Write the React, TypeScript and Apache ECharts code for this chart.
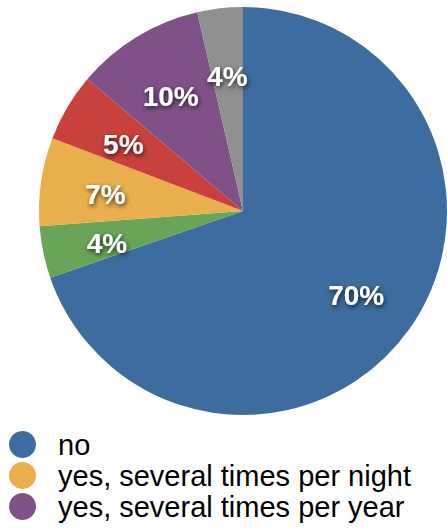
import React, { useEffect, useRef } from "react";
import * as echarts from "echarts";

const categories = [
  "no",
  "yes, once per night",
  "yes, several times per night",
  "yes, several times per month",
  "yes, several times per year",
  "I don't know",
];
const values = [69.7, 4.1, 7.0, 5.4, 10.2, 3.6];
const colors = ["#3d6c9e", "#6aa457", "#eaaf4d", "#c9413d", "#805189", "#8e9190"];
const legendItems = ["no", "yes, several times per night", "yes, several times per year"];

export default function App() {
  const ref = useRef<HTMLDivElement>(null);
  useEffect(() => {
    if (!ref.current) return;
    const chart = echarts.init(ref.current, null, { renderer: "svg" });
    const data = categories.map((name, i) => ({
      name,
      value: values[i],
      itemStyle: { color: colors[i] },
    }));
    chart.setOption({
      animation: false,
      legend: {
        orient: "vertical",
        left: 9,
        top: 430,
        height: 150,
        padding: 0,
        icon: "circle",
        itemWidth: 27,
        itemHeight: 27,
        itemGap: 2,
        selectedMode: false,
        data: legendItems.map((n) => ({
          name: n,
          itemStyle: { color: colors[categories.indexOf(n)] },
        })),
        textStyle: {
          fontFamily: "Liberation Sans, Arial, Helvetica, sans-serif",
          fontSize: 29,
          color: "#000",
          padding: [0, 0, 0, 17],
        },
      },
      series: [
        {
          type: "pie",
          center: [243, 211],
          radius: [0, 204],
          startAngle: 90,
          clockwise: true,
          silent: true,
          label: { show: false },
          labelLine: { show: false },
          emphasis: { disabled: true },
          data,
        },
        {
          type: "pie",
          center: [243, 211],
          radius: [68, 204],
          startAngle: 90,
          clockwise: true,
          silent: true,
          itemStyle: { color: "rgba(0,0,0,0)" },
          emphasis: { disabled: true },
          labelLine: { show: false },
          label: {
            show: true,
            position: "inside",
            offset: [0, 4],
            formatter: (p: any) => Math.round(p.percent) + "%",
            color: "#fff",
            fontFamily: "Liberation Sans, Arial, Helvetica, sans-serif",
            fontWeight: "bold",
            fontSize: 28,
            textShadowColor: "rgba(0,0,0,0.75)",
            textShadowBlur: 5,
            textShadowOffsetX: 1,
            textShadowOffsetY: 2,
          },
          data: categories.map((name, i) => ({
            name,
            value: values[i],
            itemStyle: { color: "rgba(0,0,0,0)" },
          })),
        },
      ],
    });
    return () => chart.dispose();
  }, []);
  return (
    <div
      ref={ref}
      style={{ position: "fixed", left: 0, top: 0, width: 447, height: 528, background: "#fff" }}
    />
  );
}
